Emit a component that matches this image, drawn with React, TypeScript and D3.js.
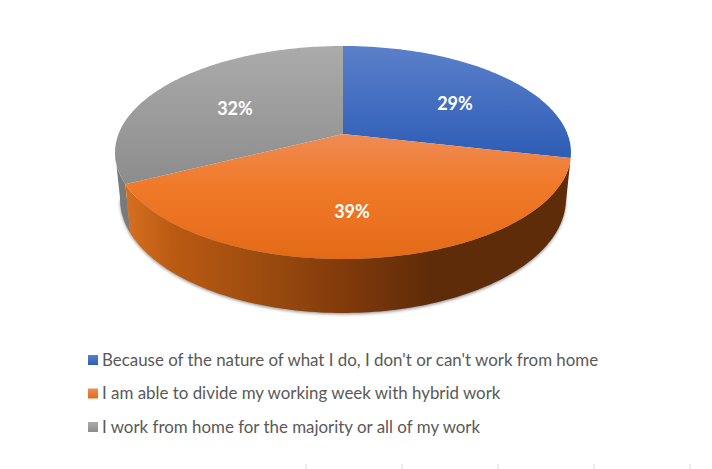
import React from "react";
import * as d3 from "d3";

const categories = [
  "Because of the nature of what I do, I don't or can't work from home",
  "I am able to divide my working week with hybrid work",
  "I work from home for the majority or all of my work",
];
const shareValues = [28.6, 39.0, 32.4];
const shareLabels = ["29%", "39%", "32%"];
const topColors = [["#5b80ca", "#2d5cb6"], ["#ef8c58", "#e36a17"], ["#ababab", "#8c8c8c"]];
const axisTickXs = [306, 402, 498, 594, 690];

const W = 712, H = 469;
const apex = { x: 343, y: 134 };
const k = -0.1737, a = 224.5, b = 103.3;
const topCentre = { x: 343, y: 152.5 };
const baseCentre = { x: 343, y: 199 };
const baseScaleX = 0.978, baseScaleY = 1.07;

const project = (angle: number) => {
  const u = Math.sin(angle), v = -Math.cos(angle);
  const d = 1 + k * v;
  return [apex.x + (a * u) / d, apex.y + (b * v) / d] as [number, number];
};
const toBase = ([x, y]: [number, number]) =>
  [baseCentre.x + (x - topCentre.x) * baseScaleX, baseCentre.y + (y - topCentre.y) * baseScaleY] as [number, number];
const samples = (s: number, e: number) => d3.range(0, 121).map((i) => s + ((e - s) * i) / 120);
const line = d3.line();

const arcs = d3.pie<number>().sort(null)(shareValues);
const labelPos: [number, number][] = [[455, 103], [352, 211], [235, 108]];

export default function App() {
  const rim = samples(Math.PI / 2 - 0.17, (3 * Math.PI) / 2 - 0.17).map(project).map(toBase);
  const shadowPts = rim.map(([x, y]) => [x, y + 1.5] as [number, number]);
  const legendY = d3.scalePoint<string>().domain(categories).range([360, 427]);

  const orange = arcs[1];
  const grey = arcs[2];
  const orangeTop = samples(orange.startAngle, orange.endAngle).map(project);
  const orangeBase = orangeTop.map(toBase).reverse();
  const greyEnd = (3 * Math.PI) / 2 - 0.17;
  const greyTop = samples(grey.startAngle, greyEnd).map(project);
  const greyBase = greyTop.map(toBase).reverse();

  return (
    <svg width={W} height={H} viewBox={`0 0 ${W} ${H}`} style={{ position: "absolute", left: 0, top: 0, background: "#fff" }}>
      <defs>
        <linearGradient id="top0" gradientUnits="userSpaceOnUse" x1="0" x2="0" y1="46" y2="160">
          <stop offset="0" stopColor="#5b80ca" />
          <stop offset="1" stopColor="#2d5cb6" />
        </linearGradient>
        <linearGradient id="top1" gradientUnits="userSpaceOnUse" x1="0" x2="0" y1="134" y2="259">
          <stop offset="0" stopColor="#ee8b54" />
          <stop offset="0.4" stopColor="#f17a2a" />
          <stop offset="1" stopColor="#e36a17" />
        </linearGradient>
        <linearGradient id="top2" gradientUnits="userSpaceOnUse" x1="0" x2="0" y1="46" y2="185">
          <stop offset="0" stopColor="#ababab" />
          <stop offset="1" stopColor="#8c8c8c" />
        </linearGradient>
        {topColors.map((c, i) => (
          <linearGradient key={i} id={`leg${i}`} x1="0" x2="0" y1="0" y2="1">
            <stop offset="0" stopColor={c[0]} />
            <stop offset="1" stopColor={c[1]} />
          </linearGradient>
        ))}
        <linearGradient id="sideO" gradientUnits="userSpaceOnUse" x1="128" x2="570" y1="0" y2="0">
          <stop offset="0" stopColor="#d56e20" />
          <stop offset="0.1" stopColor="#bb5b12" />
          <stop offset="0.35" stopColor="#96480e" />
          <stop offset="0.5" stopColor="#80390b" />
          <stop offset="0.68" stopColor="#5f2c09" />
          <stop offset="1" stopColor="#5e2c0a" />
        </linearGradient>
        <filter id="blur" x="-10%" y="-30%" width="120%" height="160%">
          <feGaussianBlur stdDeviation="1.6" />
        </filter>
      </defs>

      {axisTickXs.map((x) => (
        <line key={x} x1={x} x2={x} y1={464} y2={469} stroke="#d9d9d9" />
      ))}

      <path d={line(shadowPts)! + "Z"} fill="#3c3c3c" opacity={0.5} filter="url(#blur)" />
      <path d={line([...greyTop, ...greyBase])! + "Z"} fill="#7a7a7a" />
      <path d={line([...orangeTop, ...orangeBase])! + "Z"} fill="url(#sideO)" />

      {arcs.map((arc, i) => {
        const pts = samples(arc.startAngle, arc.endAngle).map(project);
        return <path key={i} d={line([[apex.x, apex.y], ...pts])! + "Z"} fill={`url(#top${i})`} />;
      })}

      {arcs.map((_, i) => (
        <text key={i} x={labelPos[i][0]} y={labelPos[i][1] + 6.5} textAnchor="middle" fontFamily="Lato, sans-serif"
          fontWeight={700} fontSize={18} fill="#fff">
          {shareLabels[i]}
        </text>
      ))}

      {categories.map((c, i) => {
        const y = legendY(c)!;
        return (
          <g key={c}>
            <rect x={88} y={y - 5} width={10} height={10} fill={`url(#leg${i})`} />
            <text x={102} y={y + 5.5} fontFamily="Lato, sans-serif" fontSize={16.9} fill="#595959">
              {c}
            </text>
          </g>
        );
      })}
    </svg>
  );
}
